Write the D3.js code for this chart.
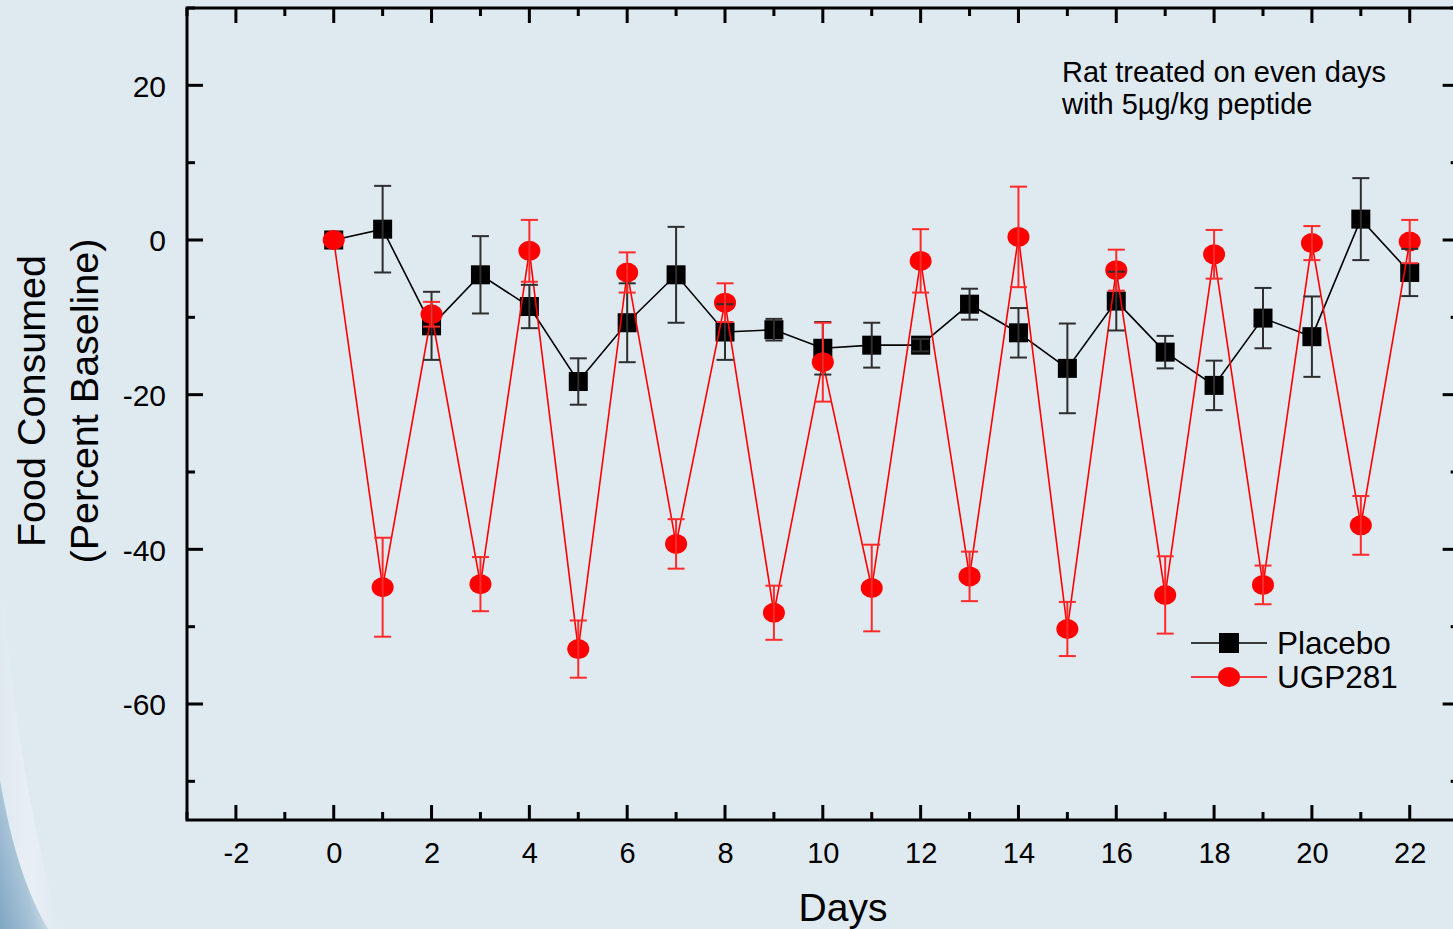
<!DOCTYPE html>
<html>
<head>
<meta charset="utf-8">
<script src="https://cdn.jsdelivr.net/npm/d3@7/dist/d3.min.js"></script>
<style>
html,body{margin:0;padding:0;background:#dfe9f0;overflow:hidden;}
svg{display:block;font-family:"Liberation Sans",Arial,sans-serif;}
</style>
</head>
<body>
<svg id="chart" width="1453" height="929"></svg>
<script>
const days = [0,1,2,3,4,5,6,7,8,9,10,11,12,13,14,15,16,17,18,19,20,21,22];
const placebo = [0, 1.4, -11.1, -4.5, -8.6, -18.3, -10.7, -4.5, -11.9, -11.6, -14.0, -13.6, -13.6, -8.3, -12.0, -16.6, -7.9, -14.5, -18.8, -10.1, -12.5, 2.7, -4.2];
const placeboErr = [0, 5.6, 4.4, 5.0, 2.8, 3.0, 5.1, 6.2, 3.6, 1.4, 3.4, 2.9, 0.8, 2.0, 3.2, 5.8, 3.8, 2.1, 3.2, 3.9, 5.2, 5.3, 3.05];
const ugp281 = [0, -44.9, -9.6, -44.5, -1.4, -52.9, -4.2, -39.3, -8.1, -48.2, -15.8, -45.0, -2.7, -43.5, 0.4, -50.3, -3.9, -45.9, -1.85, -44.6, -0.4, -36.9, -0.2];
const ugp281Err = [0, 6.4, 1.6, 3.5, 4.0, 3.7, 2.6, 3.2, 2.5, 3.5, 5.1, 5.6, 4.1, 3.2, 6.5, 3.5, 2.65, 5.0, 3.15, 2.5, 2.2, 3.8, 2.8];
const xTicks = [-2,0,2,4,6,8,10,12,14,16,18,20,22];
const yTicks = [20,0,-20,-40,-60];
const seriesNames = ["Placebo","UGP281"];
const noteLines = ["Rat treated on even days","with 5µg/kg peptide"];

(function(){
const svg = d3.select("#chart");
const W = 1453, H = 929;

// background
const defs = svg.append("defs");
const g1 = defs.append("linearGradient").attr("id","swoosh").attr("x1","0").attr("y1","1").attr("x2","1").attr("y2","0.2");
g1.append("stop").attr("offset","0").attr("stop-color","#6f9aba");
g1.append("stop").attr("offset","0.45").attr("stop-color","#9dbcd3");
g1.append("stop").attr("offset","1").attr("stop-color","#dfe9f0").attr("stop-opacity","0");
const g2 = defs.append("linearGradient").attr("id","glow").attr("x1","0").attr("y1","0").attr("x2","1").attr("y2","0");
g2.append("stop").attr("offset","0").attr("stop-color","#ffffff").attr("stop-opacity","0.0");
g2.append("stop").attr("offset","0.5").attr("stop-color","#ffffff").attr("stop-opacity","0.3");
g2.append("stop").attr("offset","1").attr("stop-color","#ffffff").attr("stop-opacity","0");
svg.append("rect").attr("width",W).attr("height",H).attr("fill","#dfe9f0");
svg.append("path").attr("d","M0,560 C12,700 25,800 60,929 L0,929 Z").attr("fill","url(#glow)");
svg.append("path").attr("d","M0,780 C12,850 28,895 48,929 L0,929 Z").attr("fill","url(#swoosh)").attr("opacity",0.85);

const pL = 187, pR = 187 + 26*48.909, pT = 8, pB = 820;
const x = d3.scaleLinear().domain([-3,23]).range([pL, pR]);
const y = d3.scaleLinear().domain([-75,30]).range([pB, pT]);

const frame = svg.append("g");
const xMajor = d3.range(-2,23,2), xMinor = d3.range(-3,24,2);
const yMajor = d3.range(-60,30,20), yMinor = d3.range(-70,31,20);

const tk = frame.append("g").attr("stroke","#000").attr("stroke-width",3);
xMajor.forEach(d=>{
  tk.append("line").attr("x1",x(d)).attr("x2",x(d)).attr("y1",pB).attr("y2",pB-15);
  tk.append("line").attr("x1",x(d)).attr("x2",x(d)).attr("y1",pT).attr("y2",pT+15);
});
xMinor.forEach(d=>{
  tk.append("line").attr("x1",x(d)).attr("x2",x(d)).attr("y1",pB).attr("y2",pB-8);
  tk.append("line").attr("x1",x(d)).attr("x2",x(d)).attr("y1",pT).attr("y2",pT+8);
});
yMajor.forEach(d=>{
  tk.append("line").attr("x1",pL).attr("x2",pL+16).attr("y1",y(d)).attr("y2",y(d));
  tk.append("line").attr("x1",pR).attr("x2",pR-16).attr("y1",y(d)).attr("y2",y(d));
});
yMinor.forEach(d=>{
  tk.append("line").attr("x1",pL).attr("x2",pL+8).attr("y1",y(d)).attr("y2",y(d));
  tk.append("line").attr("x1",pR).attr("x2",pR-8).attr("y1",y(d)).attr("y2",y(d));
});
frame.append("rect").attr("x",pL).attr("y",pT).attr("width",pR-pL).attr("height",pB-pT)
  .attr("fill","none").attr("stroke","#000").attr("stroke-width",3);

const xAxis = d3.axisBottom(x).tickValues(xTicks).tickSize(0).tickPadding(0).tickFormat(d3.format("d"));
const xg = svg.append("g").attr("transform",`translate(0,${pB})`).call(xAxis);
xg.select(".domain").remove();
xg.selectAll("text").attr("y",43).attr("dy",null).attr("font-size",29).attr("fill","#000")
  .attr("font-family","'Liberation Sans',Arial,sans-serif").text(d=>String(d));
const yAxis = d3.axisLeft(y).tickValues(yTicks).tickSize(0).tickPadding(0).tickFormat(d3.format("d"));
const yg = svg.append("g").attr("transform",`translate(166,0)`).call(yAxis);
yg.select(".domain").remove();
yg.selectAll("text").attr("x",0).attr("dy","0.36em").attr("font-size",30).attr("fill","#000")
  .attr("font-family","'Liberation Sans',Arial,sans-serif").text(d=>String(d));

svg.append("text").attr("x",843).attr("y",921).attr("text-anchor","middle").attr("font-size",39).text("Days");
const yt = svg.append("text").attr("transform","translate(45,401) rotate(-90)").attr("text-anchor","middle").attr("font-size",39.5);
yt.append("tspan").attr("x",0).attr("y",0).text("Food Consumed");
yt.append("tspan").attr("x",0).attr("y",53).text("(Percent Baseline)");

noteLines.forEach((t,i)=>{
  svg.append("text").attr("x",1062).attr("y",82+i*32).attr("font-size",29).text(t);
});

const plot = svg.append("g");
const line = d3.line().x((d,i)=>x(days[i])).y(d=>y(d));

function errBars(vals, errs, color){
  const g = plot.append("g").attr("stroke",color).attr("stroke-width",2).attr("fill","none");
  vals.forEach((v,i)=>{
    const e = errs[i]; if(!e) return;
    const cx = x(days[i]);
    g.append("line").attr("x1",cx).attr("x2",cx).attr("y1",y(v+e)).attr("y2",y(v-e));
    g.append("line").attr("x1",cx-8.5).attr("x2",cx+8.5).attr("y1",y(v+e)).attr("y2",y(v+e));
    g.append("line").attr("x1",cx-8.5).attr("x2",cx+8.5).attr("y1",y(v-e)).attr("y2",y(v-e));
  });
}

plot.append("path").datum(placebo).attr("d",line).attr("fill","none").attr("stroke","#000").attr("stroke-width",1.6);
plot.append("g").selectAll("rect").data(placebo).join("rect")
  .attr("x",(d,i)=>x(days[i])-9.5).attr("y",d=>y(d)-9.5).attr("width",19).attr("height",19).attr("fill","#000");
plot.append("path").datum(ugp281).attr("d",line).attr("fill","none").attr("stroke","#ff0000").attr("stroke-width",1.6);
plot.append("g").selectAll("ellipse").data(ugp281).join("ellipse")
  .attr("cx",(d,i)=>x(days[i])).attr("cy",d=>y(d)).attr("rx",11).attr("ry",10).attr("fill","#ff0000");
errBars(placebo, placeboErr, "#2e2e2e");
errBars(ugp281, ugp281Err, "#ff2a2a");

const lg = svg.append("g");
const legY = [643, 677];
lg.append("line").attr("x1",1191).attr("x2",1267).attr("y1",legY[0]).attr("y2",legY[0]).attr("stroke","#000").attr("stroke-width",1.6);
lg.append("rect").attr("x",1229-10).attr("y",legY[0]-10).attr("width",20).attr("height",20).attr("fill","#000");
lg.append("line").attr("x1",1191).attr("x2",1267).attr("y1",legY[1]).attr("y2",legY[1]).attr("stroke","#ff0000").attr("stroke-width",1.6);
lg.append("ellipse").attr("cx",1229).attr("cy",legY[1]).attr("rx",11).attr("ry",10).attr("fill","#ff0000");
seriesNames.forEach((n,i)=>{
  lg.append("text").attr("x",1277).attr("y",legY[i]+11).attr("font-size",31.5).text(n);
});
})();
</script>
</body>
</html>
